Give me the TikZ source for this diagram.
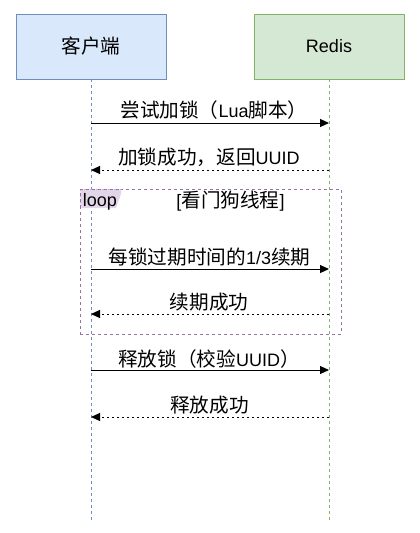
\documentclass[tikz,border=0pt]{standalone}
\usepackage{fontspec}
\setmainfont{Liberation Sans}
\newfontfamily\cjk[Scale=1.09]{Noto Sans CJK SC}
\usetikzlibrary{arrows.meta}
\definecolor{cfill}{HTML}{DAE8FC}
\definecolor{cline}{HTML}{6C8EBF}
\definecolor{rfill}{HTML}{D5E8D4}
\definecolor{rline}{HTML}{82B366}
\definecolor{pline}{HTML}{9673A6}
\definecolor{pfill}{HTML}{E1D5E7}
\tikzset{
  x=1pt, y=-1pt,
  actor/.style={draw, line width=0.9pt, minimum width=150pt, minimum height=65pt, inner sep=0pt, font=\fontsize{18}{22}\selectfont},
  lifeline/.style={line width=0.8pt, dash pattern=on 3pt off 3pt},
  msg/.style={line width=1pt, -{Triangle[length=9pt,width=8pt]}},
  reply/.style={line width=1pt, dash pattern=on 2pt off 3pt, -{Triangle[length=9pt,width=8pt]}},
  lbl/.style={anchor=base, inner sep=0pt, font=\fontsize{18}{22}\selectfont},
  frame/.style={draw=pline, line width=0.8pt, dash pattern=on 3pt off 3pt, minimum width=261pt, minimum height=145pt, inner sep=0pt}
}
\begin{document}
\begin{tikzpicture}
\useasboundingbox (0,0) rectangle (420,533);
% actors
\node[actor, fill=cfill, draw=cline] (client) at (91,46.5) {\cjk 客户端};
\node[actor, fill=rfill, draw=rline] (redis) at (329,46.5) {Redis};
% lifeline ends
\coordinate (cend) at (91,520);
\coordinate (rend) at (329,520);
\draw[lifeline, draw=cline] (client.south) -- (cend);
\draw[lifeline, draw=rline] (redis.south) -- (rend);
% loop frame
\node[frame] (loopframe) at (210.5,261.5) {};
\fill[pfill] (80.4,189.4) -- (121,189.4) -- (121,194) -- (116,208) -- (80.4,208) -- cycle;
\draw[pline, line width=0.8pt, dash pattern=on 3pt off 3pt] (80.4,208) -- (80.4,189.4) -- (121,189.4);
\node[lbl] (looplbl) at (100,206.5) {loop};
\node[lbl] (guard) at (230.5,207) {[{\cjk 看门狗线程}]};
% message points
\foreach \n/\y in {1/123, 2/170, 3/269, 4/314, 5/370, 6/417} {
  \coordinate (c\n) at (91,\y);
  \coordinate (r\n) at (329,\y);
}
\draw[msg] (c1) -- (r1);
\draw[reply] (r2) -- (c2);
\draw[msg] (c3) -- (r3);
\draw[reply] (r4) -- (c4);
\draw[msg] (c5) -- (r5);
\draw[reply] (r6) -- (c6);
% labels
\node[lbl] (l1) at (214,117) {{\cjk 尝试加锁（}Lua{\cjk 脚本）}};
\node[lbl] (l2) at (209,164.5) {{\cjk 加锁成功，返回}UUID};
\node[lbl] (l3) at (209.5,264) {{\cjk 每锁过期时间的}1/3{\cjk 续期}};
\node[lbl] (l4) at (209,309.5) {{\cjk 续期成功}};
\node[lbl] (l5) at (209,366.5) {{\cjk 释放锁（校验}UUID{\cjk ）}};
\node[lbl] (l6) at (209.5,412.5) {{\cjk 释放成功}};
\end{tikzpicture}
\end{document}
